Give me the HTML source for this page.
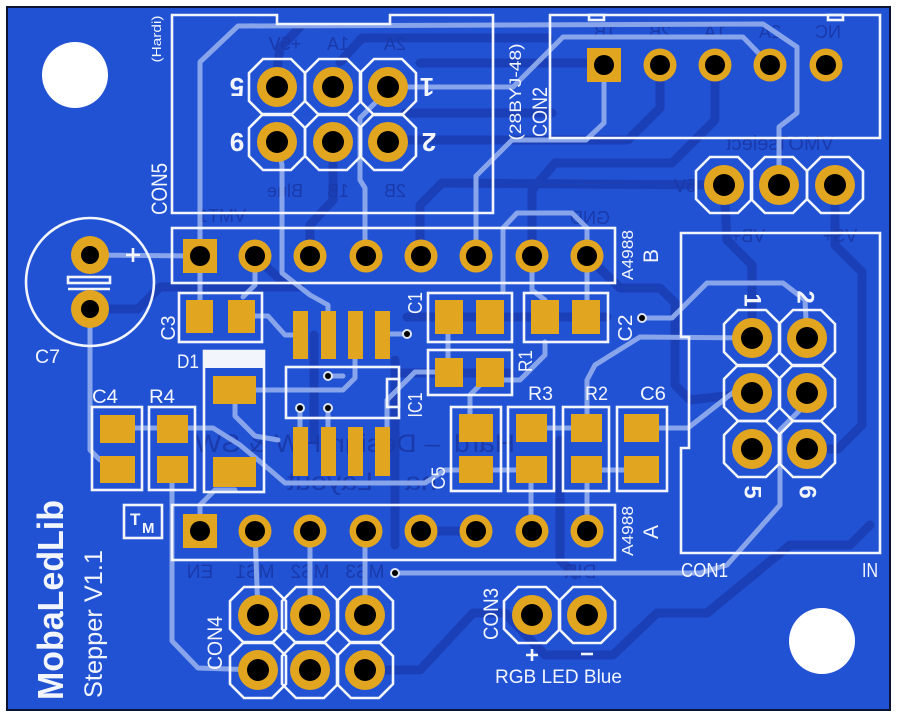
<!DOCTYPE html>
<html><head><meta charset="utf-8"><style>
html,body{margin:0;padding:0;background:#fff;}
svg{display:block;}
text{font-family:"Liberation Sans",sans-serif;}
</style></head><body>
<svg width="900" height="718" viewBox="0 0 900 718" xmlns="http://www.w3.org/2000/svg">
<defs>
 <polygon id="oct" points="-14,-28 14,-28 28,-14 28,14 14,28 -14,28 -28,14 -28,-14" fill="none" stroke="#f2f5fc" stroke-width="2.6"/>
 <g id="pl"><circle r="20" fill="#e2a51f"/><circle r="11" fill="#000"/></g>
 <g id="ps"><circle r="16.5" fill="#e2a51f"/><circle r="10" fill="#000"/></g>
 <g id="via"><circle r="5" fill="#dde5f7"/><circle r="3" fill="#000"/></g>
</defs>
<rect x="0" y="0" width="900" height="718" fill="#fff"/>
<rect x="7" y="7" width="883" height="703" fill="#2152d4" stroke="#0c1433" stroke-width="2"/>

<!-- bottom (dark) traces -->
<g fill="none" stroke="#1b3fb6" stroke-width="9" stroke-linejoin="round" stroke-linecap="round">
<path d="M300,27 L280,48 L277,70"/>
<path d="M340,62 L362,38 L548,38"/>
<path d="M420,63 L604,63"/>
<path d="M405,113 L552,113"/>
<path d="M400,140 L628,140 L660,108 L660,65"/>
<path d="M715,65 L715,120 L672,163 L555,163 L532,190 L532,240"/>
<path d="M420,256 L420,205 L442,183 L724,185"/>
<path d="M724,185 L727,240 L752,265 L752,338"/>
<path d="M835,185 L835,245 L862,272 L862,425 L838,449 L807,449"/>
<path d="M587,256 L620,288 L660,288 L675,303 L675,385 L690,400 L752,393"/>
<path d="M90,309 L138,309 L160,287 L300,287"/>
<path d="M255,256 L288,287"/>
<path d="M310,256 L310,225 L333,200 L333,142"/>
<path d="M365,670 L420,670 L473,613 L505,613 L545,655 L613,655 L657,613 L707,613 L790,545 L850,545 L870,525"/>
<path d="M421,531 L476,531"/>
<path d="M395,360 L395,545"/>
<path d="M560,440 L560,560 L575,575"/>
<path d="M407,317 L607,317"/>
<path d="M400,373 L510,373"/>
<path d="M314,335 L314,440"/>
</g>

<!-- mirrored bottom silkscreen -->
<g fill="#1a3aab" font-size="18" text-anchor="middle">
<text transform="translate(285,50) scale(-1,1)">+5V</text>
<text transform="translate(338,50) scale(-1,1)">1A</text>
<text transform="translate(395,50) scale(-1,1)">2A</text>
<text transform="translate(285,197) scale(-1,1)">Blue</text>
<text transform="translate(338,197) scale(-1,1)">1B</text>
<text transform="translate(395,197) scale(-1,1)">2B</text>
<text transform="translate(222,222) scale(-1,1)">VMT1</text>
<text transform="translate(605,38) scale(-1,1)">1B</text>
<text transform="translate(660,38) scale(-1,1)">2B</text>
<text transform="translate(715,38) scale(-1,1)">1A</text>
<text transform="translate(770,38) scale(-1,1)">2A</text>
<text transform="translate(828,38) scale(-1,1)">NC</text>
<text transform="translate(780,150) scale(-1,1)" font-size="20">VMOTselect</text>
<text transform="translate(685,192) scale(-1,1)">5V</text>
<text transform="translate(748,242) scale(-1,1)">VB+</text>
<text transform="translate(840,242) scale(-1,1)">VS+</text>
<text transform="translate(590,224) scale(-1,1)">GND</text>
<text transform="translate(200,578) scale(-1,1)" font-size="19">EN</text>
<text transform="translate(255,578) scale(-1,1)" font-size="19">MS1</text>
<text transform="translate(310,578) scale(-1,1)" font-size="19">MS2</text>
<text transform="translate(365,578) scale(-1,1)" font-size="19">MS3</text>
<text transform="translate(580,578) scale(-1,1)" font-size="19">DIR</text>
<text transform="translate(355,452) scale(-1,1)" font-size="25" textLength="320" lengthAdjust="spacingAndGlyphs">Hardi – Design HW &amp; SW</text>
<text transform="translate(362,490) scale(-1,1)" font-size="25" textLength="150" lengthAdjust="spacingAndGlyphs">na – Layout</text>
</g>

<!-- top (light) traces -->
<g fill="none" stroke="#88a4ea" stroke-width="5" stroke-linejoin="round" stroke-linecap="round">
<path d="M90,255 L200,256"/>
<path d="M200,256 L200,62 L238,26 L763,24 L797,47 L797,113 L779,127 L779,185"/>
<path d="M388,87 L513,87 L563,37 L743,37 L770,65"/>
<path d="M604,65 L604,123 L586,140 L512,140 L476,176 L476,256"/>
<path d="M277,142 L282,165 L282,273 L310,295 L328,305 L328,311"/>
<path d="M378,100 L360,118 L360,180 L365,188 L365,256"/>
<path d="M200,256 L200,300"/>
<path d="M255,256 L255,285 L243,297"/>
<path d="M255,316 L268,316 L285,335 L300,335"/>
<path d="M90,309 L90,450 L100,460"/>
<path d="M135,428 L157,428"/>
<path d="M188,428 L213,428 L240,445 L270,470 L285,483 L425,483 L445,470 L459,470"/>
<path d="M172,470 L172,641 L198,668 L258,670"/>
<path d="M200,531 L200,505 L215,490 L235,490"/>
<path d="M255,531 L258,615"/>
<path d="M310,531 L310,615"/>
<path d="M365,531 L365,615"/>
<path d="M395,573 L700,573 L727,565 L780,505 L780,430 L800,410"/>
<path d="M659,428 L688,428 L735,391 L752,393"/>
<path d="M642,318 L672,318 L707,283 L783,283 L805,300 L807,338"/>
<path d="M752,338 L640,337 L595,365 L587,380 L587,414"/>
<path d="M532,256 L532,290 L545,300"/>
<path d="M587,256 L587,300"/>
<path d="M587,256 L587,228 L572,213 L517,213 L503,228 L503,292"/>
<path d="M545,342 L545,355 L520,380 L485,380 L470,395 L470,414"/>
<path d="M531,470 L531,531"/>
<path d="M587,470 L587,531"/>
<path d="M547,428 L571,428"/>
<path d="M493,470 L516,470"/>
<path d="M602,470 L624,470"/>
<path d="M256,390 L343,390 L355,378 L355,359"/>
<path d="M328,376 L343,376"/>
<path d="M382,334 L407,334"/>
<path d="M448,334 L448,358"/>
<path d="M435,372 L415,372 L387,400 L387,427"/>
<path d="M300,408 L300,427"/>
<path d="M328,408 L328,427"/>
<path d="M235,404 L235,416 L255,436 L278,440"/>
</g>

<!-- mounting holes -->
<circle cx="75" cy="75" r="33" fill="#fff"/>
<circle cx="822" cy="641" r="33" fill="#fff"/>

<!-- silkscreen outlines -->
<g fill="none" stroke="#f2f5fc" stroke-width="2.6">
<path d="M172,213 V15 H277 V24 H390 V15 H493 V213 Z"/>
<path d="M550,15 H880 V138 H550 Z"/>
<rect x="589" y="15" width="15" height="5"/>
<rect x="828" y="15" width="15" height="5"/>
<rect x="172" y="228" width="443" height="55"/>
<rect x="172" y="505" width="443" height="55"/>
<rect x="179" y="293" width="83" height="49"/>
<rect x="204" y="351" width="60" height="141"/>
<rect x="286" y="367" width="113" height="51"/>
<rect x="387" y="379" width="12" height="28"/>
<rect x="428" y="293" width="84" height="49"/>
<rect x="524" y="293" width="84" height="49"/>
<rect x="428" y="350" width="84" height="45"/>
<rect x="451" y="407" width="50" height="84"/>
<rect x="508" y="407" width="46" height="84"/>
<rect x="563" y="407" width="46" height="84"/>
<rect x="617" y="407" width="50" height="84"/>
<rect x="92" y="407" width="50" height="83"/>
<rect x="149" y="407" width="46" height="83"/>
<rect x="124" y="505" width="38" height="33"/>
<path d="M681,233 V337 H689 V448 H681 V553 H880 V233 Z"/>
<circle cx="90" cy="282" r="64"/>
<rect x="68" y="277" width="42" height="6"/>
<path d="M68,289 H110"/>
<path d="M126,255 H140 M133,248 V262"/>
<path d="M526,655 H538 M532,649 V661"/>
<path d="M581,654 H593"/>
</g>
<rect x="204" y="351" width="60" height="17" fill="#f2f5fc"/>

<!-- octagons -->
<use href="#oct" x="277" y="87"/><use href="#oct" x="333" y="87"/><use href="#oct" x="388" y="87"/>
<use href="#oct" x="277" y="142"/><use href="#oct" x="333" y="142"/><use href="#oct" x="388" y="142"/>
<use href="#oct" x="724" y="185"/><use href="#oct" x="779" y="185"/><use href="#oct" x="835" y="185"/>
<use href="#oct" x="752" y="338"/><use href="#oct" x="807" y="338"/>
<use href="#oct" x="752" y="393"/><use href="#oct" x="807" y="393"/>
<use href="#oct" x="752" y="449"/><use href="#oct" x="807" y="449"/>
<use href="#oct" x="258" y="615"/><use href="#oct" x="310" y="615"/><use href="#oct" x="365" y="615"/>
<use href="#oct" x="258" y="670"/><use href="#oct" x="310" y="670"/><use href="#oct" x="365" y="670"/>
<use href="#oct" x="532" y="615"/><use href="#oct" x="587" y="615"/>

<!-- THT pads -->
<use href="#pl" x="277" y="87"/><use href="#pl" x="333" y="87"/><use href="#pl" x="388" y="87"/>
<use href="#pl" x="277" y="142"/><use href="#pl" x="333" y="142"/><use href="#pl" x="388" y="142"/>
<use href="#pl" x="724" y="185"/><use href="#pl" x="779" y="185"/><use href="#pl" x="835" y="185"/>
<use href="#pl" x="752" y="338"/><use href="#pl" x="807" y="338"/>
<use href="#pl" x="752" y="393"/><use href="#pl" x="807" y="393"/>
<use href="#pl" x="752" y="449"/><use href="#pl" x="807" y="449"/>
<use href="#pl" x="258" y="615"/><use href="#pl" x="310" y="615"/><use href="#pl" x="365" y="615"/>
<use href="#pl" x="258" y="670"/><use href="#pl" x="310" y="670"/><use href="#pl" x="365" y="670"/>
<use href="#pl" x="532" y="615"/><use href="#pl" x="587" y="615"/>

<rect x="587" y="48" width="34" height="34" fill="#e2a51f"/><circle cx="604" cy="65" r="10" fill="#000"/>
<use href="#ps" x="660" y="65"/><use href="#ps" x="715" y="65"/><use href="#ps" x="770" y="65"/><use href="#ps" x="826" y="65"/>

<rect x="183" y="239" width="34" height="34" fill="#e2a51f"/><circle cx="200" cy="256" r="10" fill="#000"/>
<use href="#ps" x="255" y="256"/><use href="#ps" x="310" y="256"/><use href="#ps" x="366" y="256"/><use href="#ps" x="421" y="256"/>
<use href="#ps" x="476" y="256"/><use href="#ps" x="532" y="256"/><use href="#ps" x="587" y="256"/>

<rect x="183" y="514" width="34" height="34" fill="#e2a51f"/><circle cx="200" cy="531" r="10" fill="#000"/>
<use href="#ps" x="255" y="531"/><use href="#ps" x="310" y="531"/><use href="#ps" x="366" y="531"/><use href="#ps" x="421" y="531"/>
<use href="#ps" x="476" y="531"/><use href="#ps" x="532" y="531"/><use href="#ps" x="587" y="531"/>

<circle cx="90" cy="255" r="19" fill="#e2a51f"/><circle cx="90" cy="255" r="9" fill="#000"/>
<circle cx="90" cy="309" r="19" fill="#e2a51f"/><circle cx="90" cy="309" r="9" fill="#000"/>

<!-- SMD pads -->
<g fill="#e2a51f">
<rect x="186" y="300" width="27" height="33"/><rect x="228" y="300" width="27" height="33"/>
<rect x="213" y="376" width="43" height="28"/><rect x="213" y="457" width="43" height="30"/>
<rect x="293" y="311" width="15" height="48"/><rect x="321" y="311" width="15" height="48"/>
<rect x="348" y="311" width="15" height="48"/><rect x="375" y="311" width="15" height="48"/>
<rect x="293" y="427" width="15" height="49"/><rect x="321" y="427" width="15" height="49"/>
<rect x="348" y="427" width="15" height="49"/><rect x="375" y="427" width="15" height="49"/>
<rect x="435" y="300" width="28" height="34"/><rect x="476" y="300" width="28" height="34"/>
<rect x="531" y="300" width="28" height="34"/><rect x="572" y="300" width="28" height="34"/>
<rect x="435" y="358" width="28" height="29"/><rect x="476" y="358" width="28" height="29"/>
<rect x="459" y="414" width="34" height="28"/><rect x="459" y="456" width="34" height="27"/>
<rect x="516" y="414" width="31" height="28"/><rect x="516" y="456" width="31" height="27"/>
<rect x="571" y="414" width="31" height="28"/><rect x="571" y="456" width="31" height="27"/>
<rect x="624" y="414" width="35" height="28"/><rect x="624" y="456" width="35" height="27"/>
<rect x="100" y="415" width="35" height="28"/><rect x="100" y="456" width="35" height="27"/>
<rect x="157" y="415" width="31" height="28"/><rect x="157" y="456" width="31" height="27"/>
</g>

<!-- vias -->
<use href="#via" x="328" y="376"/><use href="#via" x="300" y="408"/><use href="#via" x="328" y="408"/>
<use href="#via" x="407" y="334"/><use href="#via" x="642" y="318"/><use href="#via" x="395" y="573"/>

<!-- labels -->
<g fill="#f2f5fc">
<text x="35" y="363" font-size="19" textLength="25" lengthAdjust="spacingAndGlyphs">C7</text>
<text x="92" y="403" font-size="19" textLength="26" lengthAdjust="spacingAndGlyphs">C4</text>
<text x="149" y="403" font-size="19" textLength="26" lengthAdjust="spacingAndGlyphs">R4</text>
<text x="177" y="368" font-size="19" textLength="22" lengthAdjust="spacingAndGlyphs">D1</text>
<text x="528" y="400" font-size="19" textLength="25" lengthAdjust="spacingAndGlyphs">R3</text>
<text x="585" y="400" font-size="19" textLength="23" lengthAdjust="spacingAndGlyphs">R2</text>
<text x="640" y="400" font-size="19" textLength="26" lengthAdjust="spacingAndGlyphs">C6</text>
<text x="681" y="577" font-size="20" textLength="47" lengthAdjust="spacingAndGlyphs">CON1</text>
<text x="862" y="577" font-size="20" textLength="16" lengthAdjust="spacingAndGlyphs">IN</text>
<text x="495" y="683" font-size="19" textLength="127" lengthAdjust="spacingAndGlyphs">RGB LED Blue</text>

<g text-anchor="middle">
<text transform="translate(167,189) rotate(-90)" font-size="22" textLength="52" lengthAdjust="spacingAndGlyphs">CON5</text>
<text transform="translate(161,39) rotate(-90)" font-size="13" textLength="47" lengthAdjust="spacingAndGlyphs">(Hardi)</text>
<text transform="translate(547,112) rotate(-90)" font-size="21" textLength="50" lengthAdjust="spacingAndGlyphs">CON2</text>
<text transform="translate(521,92) rotate(-90)" font-size="17" textLength="97" lengthAdjust="spacingAndGlyphs">(28BYJ-48)</text>
<text transform="translate(222,643) rotate(-90)" font-size="21" textLength="54" lengthAdjust="spacingAndGlyphs">CON4</text>
<text transform="translate(498,614) rotate(-90)" font-size="21" textLength="52" lengthAdjust="spacingAndGlyphs">CON3</text>
<text transform="translate(175,328) rotate(-90)" font-size="20" textLength="25" lengthAdjust="spacingAndGlyphs">C3</text>
<text transform="translate(422,303) rotate(-90)" font-size="20" textLength="22" lengthAdjust="spacingAndGlyphs">C1</text>
<text transform="translate(422,405) rotate(-90)" font-size="20" textLength="25" lengthAdjust="spacingAndGlyphs">IC1</text>
<text transform="translate(445,478) rotate(-90)" font-size="19" textLength="23" lengthAdjust="spacingAndGlyphs">C5</text>
<text transform="translate(532,361) rotate(-90)" font-size="19" textLength="22" lengthAdjust="spacingAndGlyphs">R1</text>
<text transform="translate(632,328) rotate(-90)" font-size="20" textLength="27" lengthAdjust="spacingAndGlyphs">C2</text>
<text transform="translate(633,255) rotate(-90)" font-size="16" textLength="50" lengthAdjust="spacingAndGlyphs">A4988</text>
<text transform="translate(658,256) rotate(-90)" font-size="21">B</text>
<text transform="translate(633,531) rotate(-90)" font-size="16" textLength="50" lengthAdjust="spacingAndGlyphs">A4988</text>
<text transform="translate(658,532) rotate(-90)" font-size="21">A</text>
<text transform="translate(63,600) rotate(-90)" font-size="36" font-weight="bold" textLength="200" lengthAdjust="spacingAndGlyphs">MobaLedLib</text>
<text transform="translate(102,624) rotate(-90)" font-size="25" textLength="148" lengthAdjust="spacingAndGlyphs">Stepper V1.1</text>

<text transform="translate(237,87) rotate(180)" font-size="26" font-weight="bold" dominant-baseline="central">5</text>
<text transform="translate(237,142) rotate(180)" font-size="26" font-weight="bold" dominant-baseline="central">9</text>
<text transform="translate(427,87) rotate(180)" font-size="26" font-weight="bold" dominant-baseline="central">1</text>
<text transform="translate(429,142) rotate(180)" font-size="26" font-weight="bold" dominant-baseline="central">2</text>

<text transform="translate(752,300) rotate(90)" font-size="24" font-weight="bold" dominant-baseline="central">1</text>
<text transform="translate(805,297) rotate(90)" font-size="24" font-weight="bold" dominant-baseline="central">2</text>
<text transform="translate(752,492) rotate(90)" font-size="24" font-weight="bold" dominant-baseline="central">5</text>
<text transform="translate(807,492) rotate(90)" font-size="24" font-weight="bold" dominant-baseline="central">6</text>
</g>
<text x="130" y="525" font-size="17" font-weight="bold">T</text>
<text x="142" y="533" font-size="15" font-weight="bold">M</text>
</g>
</svg>
</body></html>
